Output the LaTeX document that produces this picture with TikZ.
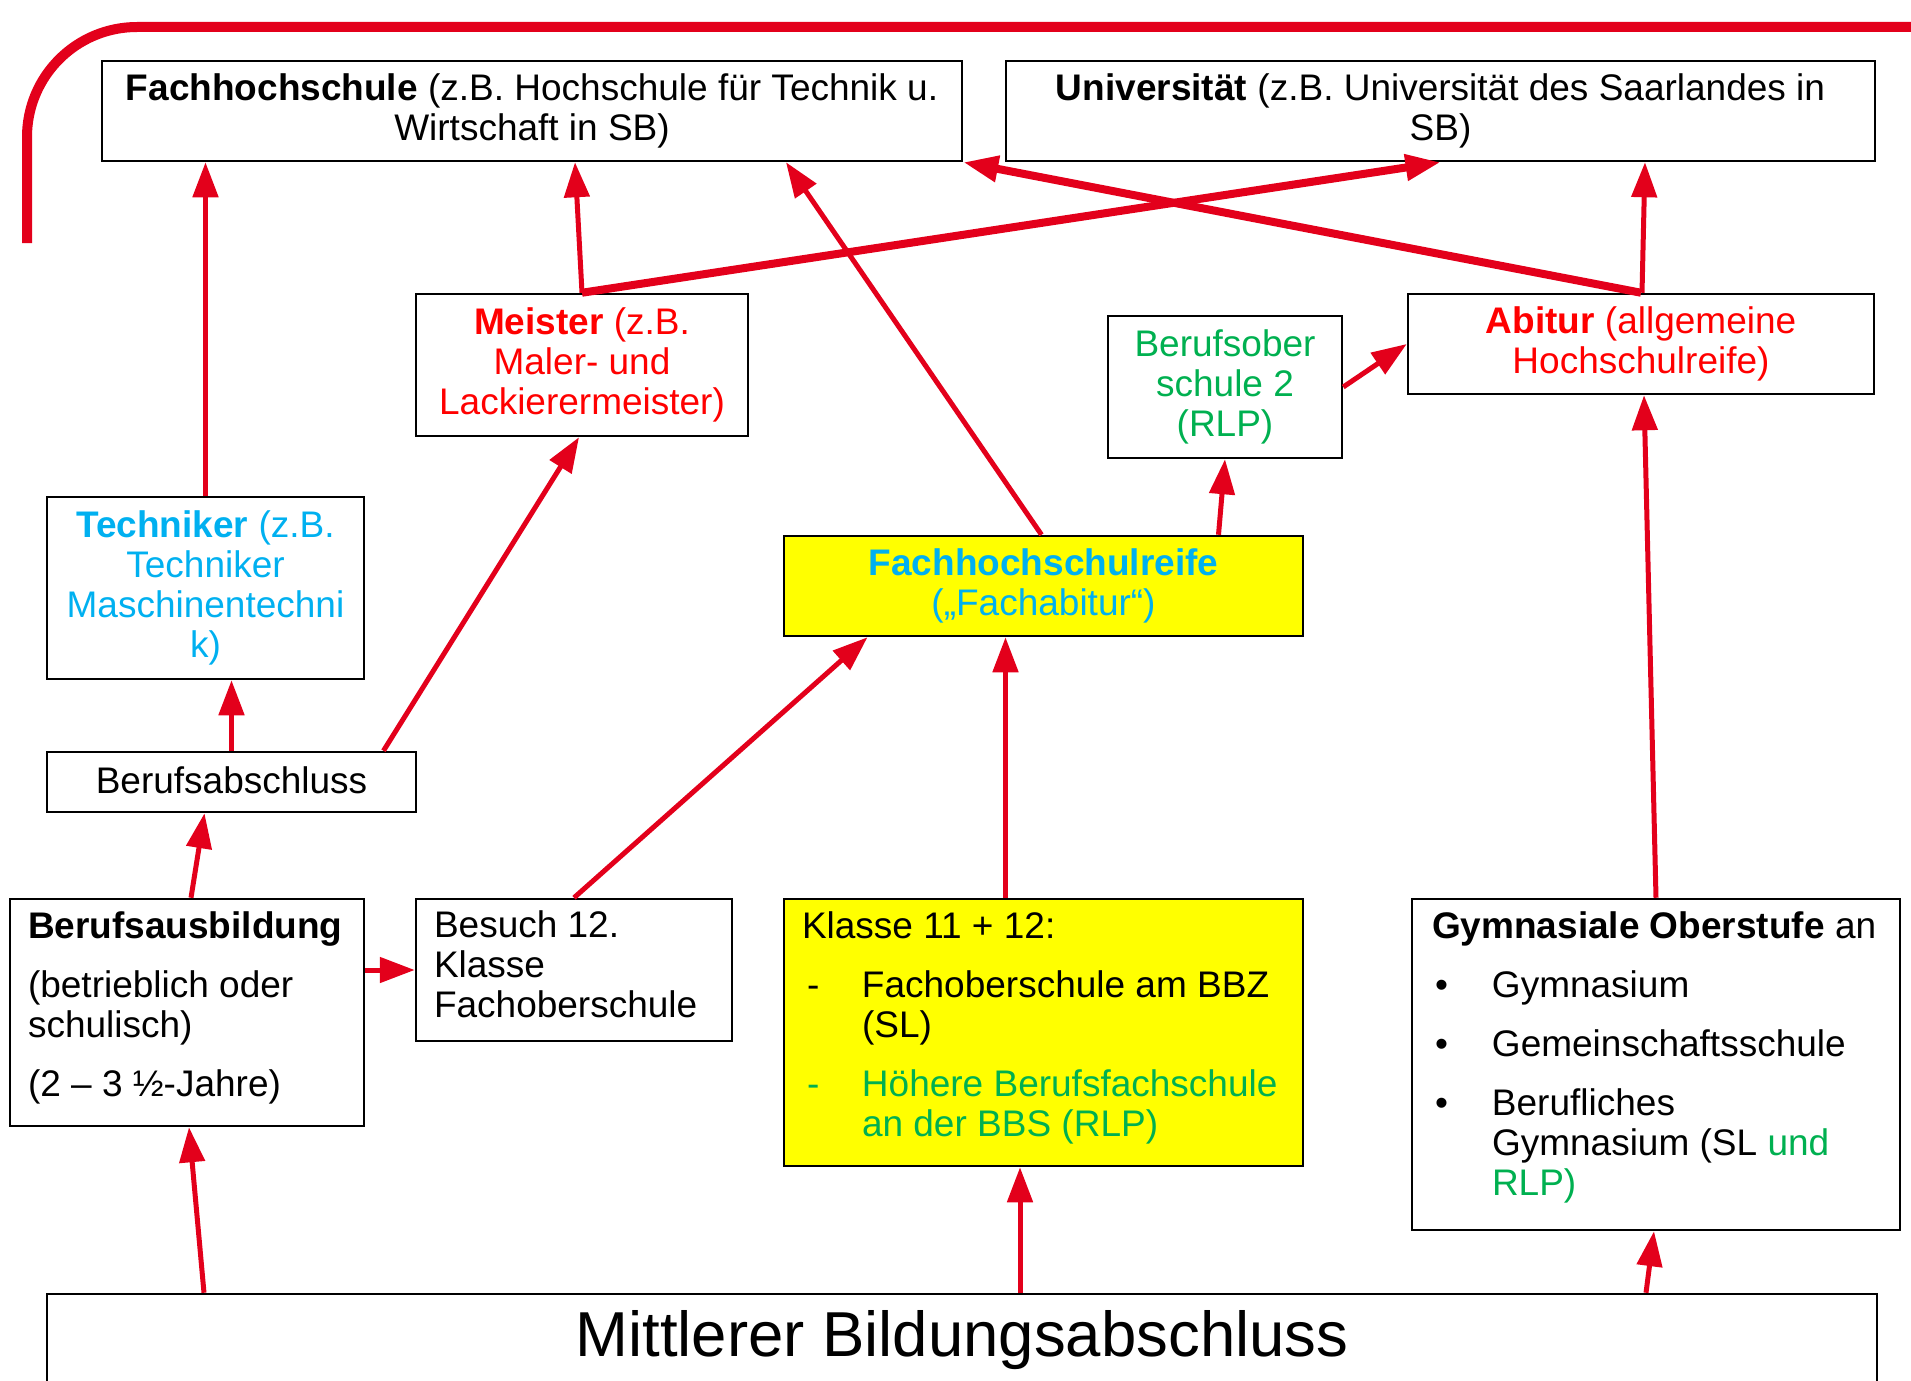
\documentclass[tikz,border=0pt]{standalone}
\usepackage{fontspec}
\setmainfont{Liberation Sans}
\usetikzlibrary{arrows.meta}

\definecolor{arrowred}{HTML}{E3001B}
\definecolor{txtred}{HTML}{FF0000}
\definecolor{txtcyan}{HTML}{00B0F0}
\definecolor{txtgreen}{HTML}{00B050}
\definecolor{boxyellow}{HTML}{FFFF00}

\newcommand{\listmark}[2][0pt]{\makebox[60pt][l]{\hspace*{#1}#2}}
\newcommand{\listindent}{\hspace*{60pt}}
\newcommand{\toptext}[3]{\raisebox{#1}[\height][\depth]{\parbox[t]{#2}{\raggedright#3}}}

\tikzset{
  box/.style 2 args={draw=black, line width=2.5pt, inner sep=0pt, align=center,
    minimum width=#1pt, minimum height=#2pt, font=\fontsize{37}{40}\selectfont},
  conn/.style={draw=arrowred, line width=5pt, -{Triangle[length=35pt,width=25pt]}},
  thickconn/.style={conn, line width=8pt},
  frame/.style={draw=arrowred, line width=10pt, rounded corners=110pt}
}

\begin{document}
\begin{tikzpicture}[x=1pt, y=-1pt] % Bildungswege
\useasboundingbox (0,0) rectangle (1911,1381);
\clip (0,0) rectangle (1911,1381);
\draw[frame] (1930,27) -- (27,27) -- (27,243);

\node[box={860}{100}] (fh) at (532,111) {\textbf{Fachhochschule} (z.B. Hochschule für Technik u.\\Wirtschaft in SB)};
\node[box={869}{100}] (uni) at (1440.5,111) {\textbf{Universität} (z.B. Universität des Saarlandes in\\SB)};
\node[box={332}{142}, text=txtred] (meister) at (582,365) {\textbf{Meister} (z.B.\\Maler- und\\Lackierermeister)};
\node[box={234}{142}, text=txtgreen] (bos) at (1225,387) {Berufsober\\schule 2\\(RLP)};
\node[box={466}{100}, text=txtred] (abitur) at (1641,344) {\textbf{Abitur} (allgemeine\\Hochschulreife)};
\node[box={317}{182}, text=txtcyan] (techniker) at (205.5,588) {\textbf{Techniker} (z.B.\\Techniker\\Maschinentechni\\k)};
\node[box={369}{60}] (abschluss) at (231.5,782) {\raisebox{2pt}[\height][\depth]{Berufsabschluss}};
\node[box={519}{100}, fill=boxyellow, text=txtcyan] (fhreife) at (1043.5,586) {\textbf{Fachhochschulreife}\\(„Fachabitur“)};
\node[box={354}{227}, inner xsep=18pt] (ausbildung) at (187,1012.5)
  {\toptext{5pt}{318pt}{\textbf{Berufsausbildung}\\[19pt](betrieblich oder\\schulisch)\\[19pt](2 – 3 ½-Jahre)}};
\node[box={316}{142}, inner xsep=18pt] (besuch) at (574,970)
  {\toptext{5.5pt}{280pt}{Besuch 12.\\Klasse\\Fachoberschule}};
\node[box={519}{267}, fill=boxyellow, inner xsep=18pt] (klasse) at (1043.5,1032.5)
  {\toptext{5pt}{483pt}{Klasse 11 + 12:\\[19pt]\listmark[5pt]{-}Fachoberschule am BBZ\\\listindent(SL)\\[19pt]%
   \textcolor{txtgreen}{\listmark[5pt]{-}\mbox{Höhere Berufsfachschule}}\\\listindent\textcolor{txtgreen}{an der BBS (RLP)}}};
\node[box={488}{331}, inner xsep=20pt] (gym) at (1656,1064.5)
  {\toptext{7.5pt}{448pt}{\mbox{\textbf{Gymnasiale Oberstufe} an}\\[19pt]\listmark[3pt]{\textbullet}Gymnasium\\[19pt]%
   \listmark[3pt]{\textbullet}Gemeinschaftsschule\\[19pt]\listmark[3pt]{\textbullet}Berufliches\\%
   \listindent Gymnasium (SL \textcolor{txtgreen}{und}\\\listindent\textcolor{txtgreen}{RLP)}}};
\node[box={1830}{92}, font=\fontsize{63.5}{70}\selectfont] (mittel) at (962,1340) {Mittlerer Bildungsabschluss};

\draw[conn] (techniker.north) -- (techniker.north |- fh.south);
\draw[conn] (meister.north) -- ([xshift=43pt]fh.south);
\draw[thickconn] (meister.north) -- (uni.south);
\draw[thickconn] (abitur.north) -- (fh.south east);
\draw[conn] ([xshift=1pt]abitur.north) -- ([xshift=204.5pt]uni.south);
\draw[conn] ([xshift=-2pt]fhreife.north) -- ([xshift=254pt]fh.south);
\draw[conn] ([xshift=175pt]fhreife.north) -- (bos.south);
\draw[conn] (bos.east) -- (abitur.west);
\draw[conn] (abschluss.north) -- (abschluss.north |- techniker.south);
\draw[conn] ([xshift=152pt]abschluss.north) -- ([xshift=-3pt]meister.south);
\draw[conn] ([xshift=4pt]ausbildung.north) -- ([xshift=-27pt]abschluss.south);
\draw[conn] (ausbildung.east |- besuch.west) -- (besuch.west);
\draw[conn] (besuch.north) -- ([xshift=-176pt]fhreife.south);
\draw[conn] ([xshift=-38pt]klasse.north) -- ([xshift=-38pt]fhreife.south);
\draw[conn] (gym.north) -- ([xshift=3pt]abitur.south);
\draw[conn] ([xshift=-758pt]mittel.north) -- ([xshift=2pt]ausbildung.south);
\draw[conn] ([xshift=58pt]mittel.north) -- ([xshift=-23.5pt]klasse.south);
\draw[conn] ([xshift=684pt]mittel.north) -- ([xshift=-2pt]gym.south);
\end{tikzpicture}
\end{document}
